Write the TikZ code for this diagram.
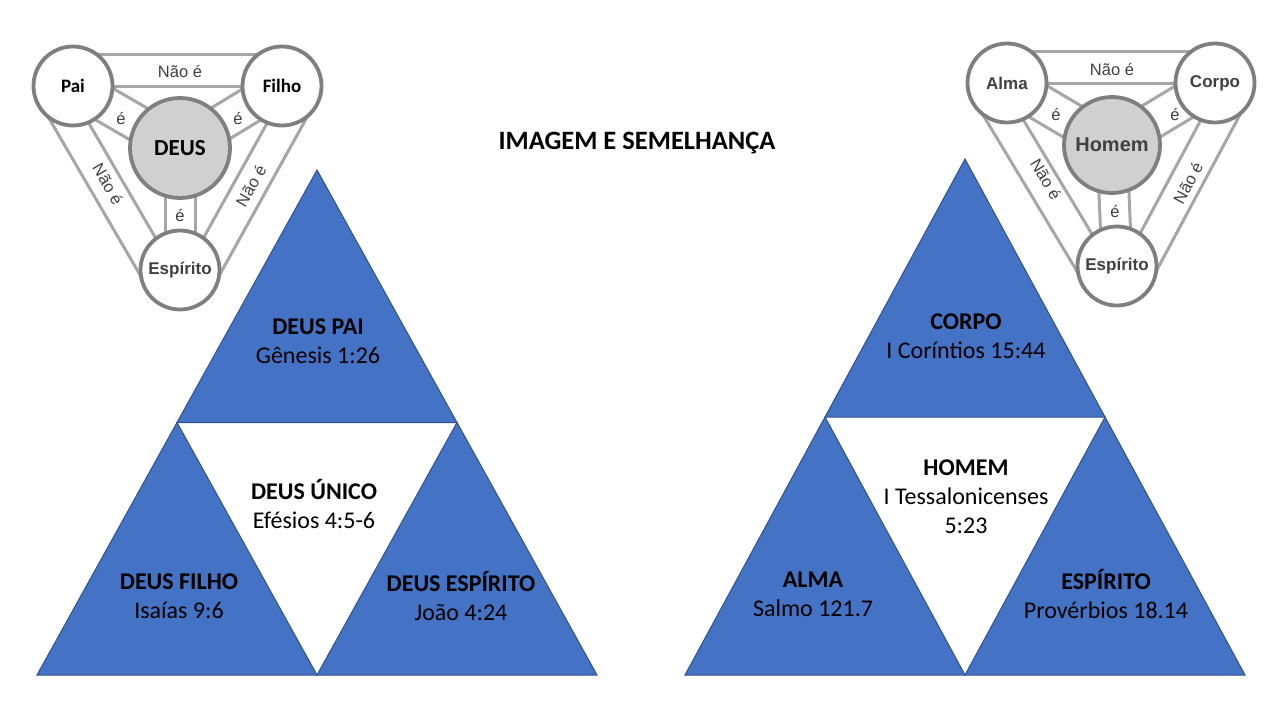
\documentclass[tikz,border=0pt]{standalone}
\usepackage{fontspec}
\setmainfont{Carlito}
\newfontfamily\arialfont{Liberation Sans}
\usetikzlibrary{calc}
\definecolor{pyrfill}{HTML}{4472C4}
\definecolor{pyrline}{HTML}{2F528F}
\definecolor{ringgray}{HTML}{7F7F7F}
\definecolor{bandgray}{HTML}{A6A6A6}
\definecolor{coregray}{HTML}{D0D0D0}
\definecolor{labelgray}{HTML}{404040}

\tikzset{
  ring/.style={circle, draw=ringgray, line width=3.8pt, fill=white, minimum size=79pt, inner sep=0pt},
  core/.style={ring, fill=coregray, minimum size=100pt},
  band/.style={draw=bandgray, line width=3pt},
  linklabel/.style={font=\arialfont\fontsize{16.5}{19}\selectfont, text=labelgray, inner sep=0pt},
  ringtext/.style={font=\bfseries\fontsize{19}{22}\selectfont},
  ringarial/.style={font=\arialfont\bfseries\fontsize{17}{20}\selectfont, text=labelgray},
  pyr/.style={fill=pyrfill, draw=pyrline, line width=1pt, line join=miter},
  pyrtext/.style={font=\fontsize{24}{28.8}\selectfont, align=center, inner sep=0pt},
}

% two parallel lines between two rings
\newcommand\band[4]{%
  \draw[band] ($(#1)!#3pt!90:(#2)$) -- ($(#2)!#3pt!-90:(#1)$);
  \draw[band] ($(#1)!#4pt!90:(#2)$) -- ($(#2)!#4pt!-90:(#1)$);
}

\begin{document}
\begin{tikzpicture}[x=1pt, y=-1pt]
    \useasboundingbox[fill=white] (0,0) rectangle (1280,720);

    % pyramids
    \newcommand\halfw{280}
    \newcommand\base{675}
    \foreach \cx/\ty in {317/170, 965/159} {
        \filldraw[pyr] (\cx,\ty) -- (\cx-\halfw/2,{(\ty+\base)/2}) -- (\cx+\halfw/2,{(\ty+\base)/2}) -- cycle;
        \filldraw[pyr] (\cx-\halfw/2,{(\ty+\base)/2}) -- (\cx-\halfw,\base) -- (\cx,\base) -- cycle;
        \filldraw[pyr] (\cx+\halfw/2,{(\ty+\base)/2}) -- (\cx,\base) -- (\cx+\halfw,\base) -- cycle;
    }

    \node[font=\bfseries\fontsize{26.5}{30}\selectfont] (title) at (637,143) {IMAGEM E SEMELHANÇA};

    \node[pyrtext] (tpai) at (318,341) {\textbf{DEUS PAI}\\Gênesis 1:26};
    \node[pyrtext] (tunico) at (314,504) {\textbf{DEUS ÚNICO}\\Efésios 4:5-6};
    \node[pyrtext] (tfilho) at (179,596) {\textbf{DEUS FILHO}\\Isaías 9:6};
    \node[pyrtext] (tespirito) at (461,596) {\textbf{DEUS ESPÍRITO}\\João 4:24};

    \node[pyrtext] (tcorpo) at (966,336) {\textbf{CORPO}\\I Coríntios 15:44};
    \node[pyrtext] (thomem) at (966,497) {\textbf{HOMEM}\\I Tessalonicenses\\5:23};
    \node[pyrtext] (talma) at (813,594) {\textbf{ALMA}\\Salmo 121.7};
    \node[pyrtext] (tesp) at (1106,594) {\textbf{ESPÍRITO}\\Provérbios 18.14};

    % left rings
    \coordinate (pai) at (73,86);
    \coordinate (filho) at (282,86);
    \coordinate (deus) at (180,148);
    \coordinate (espl) at (180,270);
    \band{pai}{filho}{0}{32}
    \band{filho}{espl}{5}{37}
    \band{espl}{pai}{5}{37}
    \band{pai}{deus}{-18}{18}
    \band{filho}{deus}{-18}{18}
    \band{deus}{espl}{-15}{15}
    \node[ring, ringtext] (npai) at (pai) {Pai};
    \node[ring, ringtext] (nfilho) at (filho) {Filho};
    \node[core, font=\bfseries\fontsize{23}{26}\selectfont] (ndeus) at (deus) {DEUS};
    \node[ring, ringarial] (nespl) at (espl) {Espírito};

    \node[linklabel] at (180,72) {Não é};
    \node[linklabel, rotate=-60] at (108,184) {Não é};
    \node[linklabel, rotate=60] at (251,186) {Não é};
    \node[linklabel] at (121,119) {é};
    \node[linklabel] at (238,119) {é};
    \node[linklabel] at (180,216) {é};

    % right rings
    \coordinate (alma) at (1007,83);
    \coordinate (corpo) at (1215,83);
    \coordinate (homem) at (1112,145);
    \coordinate (espr) at (1117,266);
    \band{alma}{corpo}{0}{32}
    \band{corpo}{espr}{5}{37}
    \band{espr}{alma}{5}{37}
    \band{alma}{homem}{-18}{18}
    \band{corpo}{homem}{-18}{18}
    \band{homem}{espr}{-15}{15}
    \node[ring, ringarial] (nalma) at (alma) {Alma};
    \node[ring, ringarial] (ncorpo) at (corpo) {Corpo};
    \node[core, ringarial, font=\arialfont\bfseries\fontsize{20}{24}\selectfont, minimum size=96pt] (nhomem) at (homem) {Homem};
    \node[ring, ringarial] (nespr) at (espr) {Espírito};

    \node[linklabel] at (1112,70) {Não é};
    \node[linklabel, rotate=-59] at (1046,179) {Não é};
    \node[linklabel, rotate=62] at (1188,183) {Não é};
    \node[linklabel] at (1056,115) {é};
    \node[linklabel] at (1175,115) {é};
    \node[linklabel] at (1115,212) {é};
\end{tikzpicture}
\end{document}
